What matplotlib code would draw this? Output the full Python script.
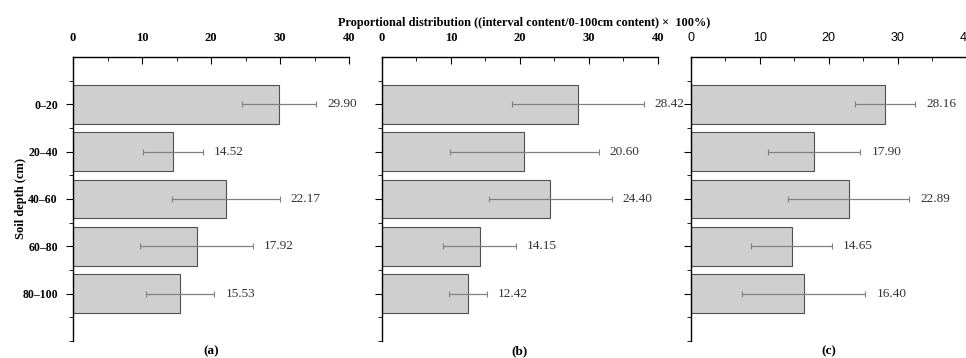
import numpy as np
import matplotlib
matplotlib.use("Agg")
import matplotlib.pyplot as plt
from matplotlib.ticker import MultipleLocator, FixedLocator

plt.rcParams['font.family'] = ['Liberation Serif', 'DejaVu Serif']

depths = ['0\u201320', '20\u201340', '40\u201360', '60\u201380', '80\u2013100']

mean_a = [29.90, 14.52, 22.17, 17.92, 15.53]
err_a = [5.35, 4.35, 7.8, 8.15, 4.95]
mean_b = [28.42, 20.60, 24.40, 14.15, 12.42]
err_b = [9.5, 10.8, 8.9, 5.3, 2.75]
mean_c = [28.16, 17.90, 22.89, 14.65, 16.40]
err_c = [4.4, 6.7, 8.75, 5.85, 8.9]

panels = [('(a)', mean_a, err_a), ('(b)', mean_b, err_b), ('(c)', mean_c, err_c)]
lefts = [0.0756, 0.3954, 0.715]

fig = plt.figure(figsize=(9.66, 3.58), dpi=100)
y = np.arange(len(depths))

for i, (tag, means, errs) in enumerate(panels):
    ax = fig.add_axes([lefts[i], 0.0475, 0.2857, 0.7933])
    ax.barh(y, means, height=0.82, color='#cfcfcf', edgecolor='#505050', linewidth=0.8)
    ax.errorbar(means, y, xerr=errs, fmt='none', ecolor='#808080', elinewidth=0.9,
                capsize=2.5, capthick=0.8)
    for yy, m, e in zip(y, means, errs):
        ax.text(m + e + 1.6, yy, '%.2f' % m, va='center', ha='left', fontsize=9.5, color='#333333')
    ax.set_xlim(0, 40)
    ax.set_ylim(5, -1)
    ax.xaxis.tick_top()
    ax.xaxis.set_major_locator(MultipleLocator(10))
    ax.xaxis.set_minor_locator(MultipleLocator(5))
    ax.tick_params(axis='x', which='both', direction='in', top=True, bottom=False,
                   pad=9, labelsize=9)
    ax.tick_params(axis='x', which='major', length=5)
    ax.tick_params(axis='x', which='minor', length=3)
    ax.yaxis.set_major_locator(FixedLocator(y))
    ax.yaxis.set_minor_locator(FixedLocator(list(np.arange(-0.5, 5, 1.0)) + [5.0]))
    ax.tick_params(axis='y', which='major', length=5, labelsize=8.5, pad=6)
    ax.tick_params(axis='y', which='minor', length=3)
    for s in ['right', 'bottom']:
        ax.spines[s].set_visible(False)
    for s in ['top', 'left']:
        ax.spines[s].set_linewidth(1.0)
    if i == 0:
        ax.set_yticklabels(depths, fontweight='bold')
        ax.set_ylabel('Soil depth (cm)', fontweight='bold', fontsize=9)
        ax.yaxis.set_label_coords(-0.165, 0.5)
    else:
        ax.set_yticklabels([])
    if i == 2:
        for lab in ax.get_xticklabels():
            lab.set_family(['Liberation Sans', 'DejaVu Sans'])
    else:
        for lab in ax.get_xticklabels():
            lab.set_fontweight('bold')
    ax.text(0.5, -0.035, tag, transform=ax.transAxes, ha='center', va='center',
            fontsize=9.5, fontweight='bold')

fig.text(0.543, 0.936, 'Proportional distribution ((interval content/0-100cm content) \u00d7  100%)',
         ha='center', va='center', fontsize=8.8, fontweight='bold')

fig.savefig('out.png', dpi=100)
